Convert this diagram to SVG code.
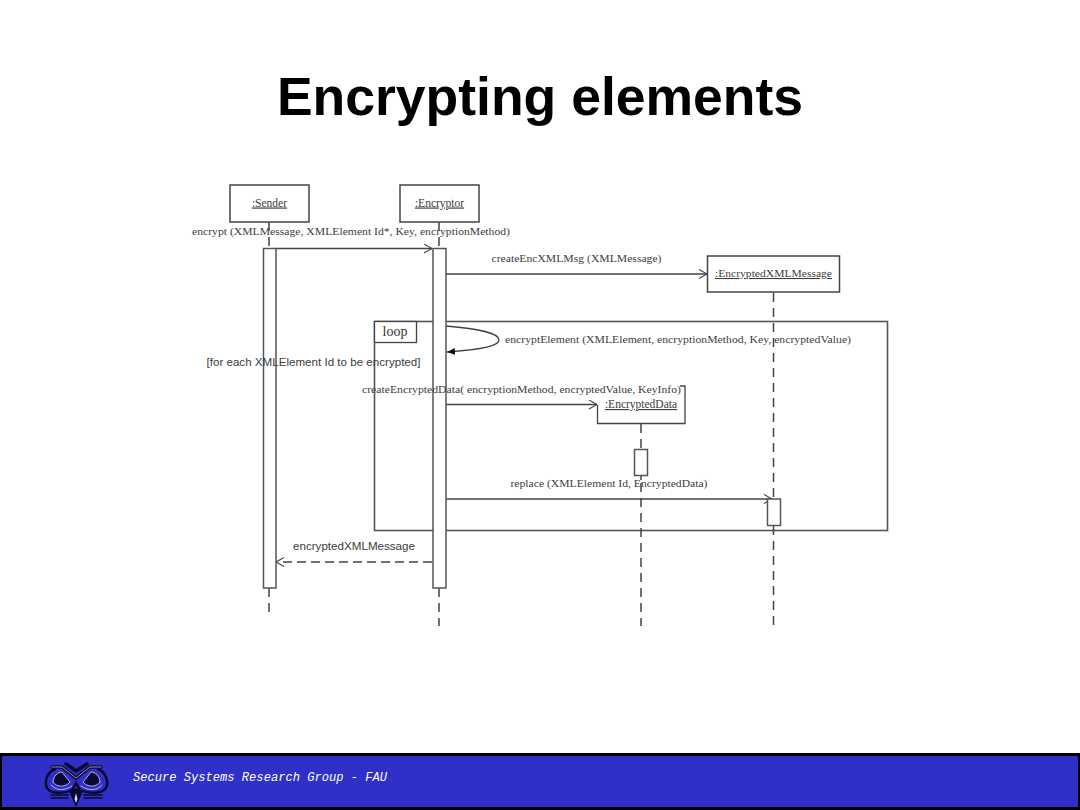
<svg xmlns="http://www.w3.org/2000/svg" width="1080" height="810" viewBox="0 0 1080 810">
<style>
.s{font-family:"Liberation Serif",serif;font-size:10.5px;fill:#3c3c3c}
.n{font-size:11.5px}
.a{font-family:"Liberation Sans",sans-serif;font-size:11px;fill:#3c3c3c}
.box{fill:#fff;stroke:#444;stroke-width:1.5}
.line{fill:none;stroke:#444;stroke-width:1.3}
.life{fill:none;stroke:#444;stroke-width:1.5;stroke-dasharray:9 6}
.act{fill:#fff;stroke:#555;stroke-width:1.5}
</style>
<defs>
<marker id="open" markerWidth="12" markerHeight="12" refX="9" refY="5" orient="auto" markerUnits="userSpaceOnUse"><path d="M1 0.5L9 5L1 9.5" fill="none" stroke="#444" stroke-width="1.1"/></marker>
<marker id="solid" markerWidth="12" markerHeight="10" refX="8" refY="4" orient="auto" markerUnits="userSpaceOnUse"><path d="M0 0.5L8 4L0 7.5Z" fill="#111"/></marker>
</defs>
<rect width="1080" height="810" fill="#fff"/>
<text x="540" y="115" text-anchor="middle" font-family="Liberation Sans, sans-serif" font-weight="700" font-size="53.500" fill="#000">Encrypting elements</text>

<g id="loop-frame">
<rect x="374.500" y="321.500" width="513" height="209" fill="none" stroke="#555" stroke-width="1.6"/>
<rect x="374.500" y="321.500" width="42" height="21" fill="#fff" stroke="#444" stroke-width="1.3"/>
<text x="395" y="336" text-anchor="middle" style="font-family:'Liberation Serif',serif;font-size:14px;fill:#333">loop</text>
</g>

<g id="connectors">
<path class="life" d="M269 222V248M269 588V616"/>
<path class="life" d="M439 222V248M439 588V626"/>
<path class="life" d="M773.500 293V498M773.500 526V626"/>
<path class="life" d="M641 424V449M641 476V480M641 483V626"/>
<path class="line" d="M276 248.500H432" marker-end="url(#open)"/>
<path class="line" d="M446 274H707" marker-end="url(#open)"/>
<path class="line" d="M446 326C480 329 499 333 499 340C499 347 475 350 447 352" marker-end="url(#solid)"/>
<path class="line" d="M446 404.500H597" marker-end="url(#open)"/>
<path class="line" d="M446 499H772" marker-end="url(#open)"/>
<path class="line" d="M432 562H276" stroke-dasharray="9 5" marker-end="url(#open)"/>
</g>

<g id="sender"><rect class="box" x="230" y="185" width="79" height="37"/><text class="s n" x="269.500" y="206.500" text-anchor="middle" text-decoration="underline">:Sender</text></g>
<g id="encryptor"><rect class="box" x="400" y="185" width="79" height="37"/><text class="s n" x="439.500" y="206.500" text-anchor="middle" text-decoration="underline">:Encryptor</text></g>
<g id="encrypted-xml-message"><rect class="box" x="707.500" y="256" width="132" height="36"/><text class="s" x="773.500" y="277" text-anchor="middle" text-decoration="underline" textLength="117" lengthAdjust="spacingAndGlyphs">:EncryptedXMLMessage</text></g>
<g id="encrypted-data"><path d="M597 386H685V423.500H597Z" fill="#fff" stroke="none"/><path class="line" stroke-width="1.5" d="M680 386H685V423.500H597.500V405"/><text class="s n" x="641" y="408" text-anchor="middle" text-decoration="underline">:EncryptedData</text></g>

<g id="activations">
<rect class="act" x="263.500" y="248.500" width="12.500" height="339.500"/>
<rect class="act" x="433" y="248.500" width="13" height="339.500"/>
<rect class="act" x="634.500" y="449.500" width="13" height="26"/>
<rect class="act" x="767.500" y="499" width="13" height="26.500"/>
</g>

<g id="labels">
<text class="s" x="192" y="235" textLength="318" lengthAdjust="spacingAndGlyphs">encrypt (XMLMessage, XMLElement Id*, Key, encryptionMethod)</text>
<text class="s" x="491.500" y="262" textLength="170" lengthAdjust="spacingAndGlyphs">createEncXMLMsg (XMLMessage)</text>
<text class="s" x="505" y="343" textLength="346" lengthAdjust="spacingAndGlyphs">encryptElement (XMLElement, encryptionMethod, Key, encryptedValue)</text>
<text class="a" x="206.500" y="366" textLength="214" lengthAdjust="spacingAndGlyphs">[for each XMLElement Id to be encrypted]</text>
<text class="s" x="362" y="393" textLength="319" lengthAdjust="spacingAndGlyphs">createEncryptedData( encryptionMethod, encryptedValue, KeyInfo)</text>
<text class="s" x="510.500" y="487" textLength="197" lengthAdjust="spacingAndGlyphs">replace (XMLElement Id, EncryptedData)</text>
<text class="a" x="293" y="550" textLength="122" lengthAdjust="spacingAndGlyphs">encryptedXMLMessage</text>
</g>

<g id="footer">
<rect x="0" y="753" width="1080" height="57" fill="#000"/>
<rect x="2" y="756" width="1076" height="51" fill="#3030c8"/>
<g id="owl-logo" fill="none" stroke-linecap="round">
<path d="M52 767H62L76 778L90 767H101M66 764L76 771L87 764" stroke="#0a0a30" stroke-width="3.500"/>
<path d="M52 767H62L76 778L90 767H101" stroke="#b0b0e8" stroke-width="0.800"/>
<path d="M55 769C47 772 44 782 47 788C51 794 64 794 72 790L76 783L80 790C88 794 102 794 106 788C109 782 106 772 98 769" stroke="#0a0a30" stroke-width="2.500"/>
<path d="M53 782C53 776 58 772 62 772L70 782C66 787 57 788 53 782Z" fill="#0a0a30" stroke="#b0b0e8" stroke-width="1"/>
<path d="M100 782C100 776 95 772 91 772L83 782C87 787 96 788 100 782Z" fill="#0a0a30" stroke="#b0b0e8" stroke-width="1"/>
<path d="M51 785C57 792 66 790 72 786M102 785C96 792 87 790 81 786" stroke="#b0b0e8" stroke-width="1"/>
<path d="M51 795H68M51 798H68M84 795H102M84 798H102" stroke="#0a0a30" stroke-width="1.500"/>
<path d="M69 791L76 807L83 791L76 788Z" fill="#0a0a30"/>
<path d="M76 793L74.500 799L76 803L77.500 799Z" fill="#d8d8f0"/>
</g>
<text x="133" y="781" font-family="Liberation Mono, monospace" font-style="italic" font-size="12" fill="#fff" textLength="254" lengthAdjust="spacingAndGlyphs">Secure Systems Research Group - FAU</text>
</g>
</svg>
